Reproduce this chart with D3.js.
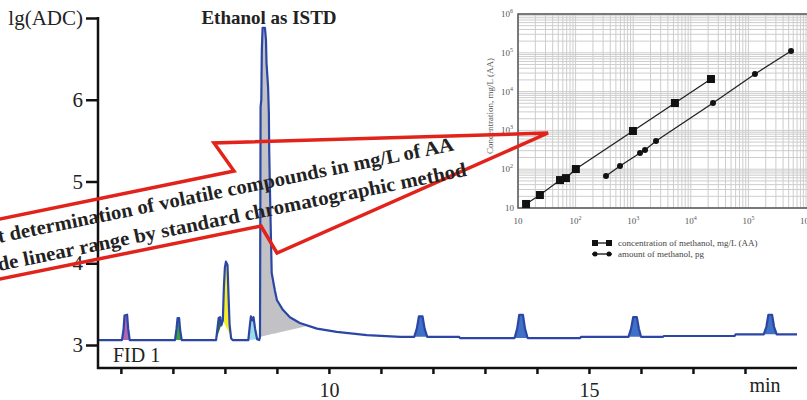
<!DOCTYPE html>
<html>
<head>
<meta charset="utf-8">
<script src="https://cdn.jsdelivr.net/npm/d3@7"></script>
<style>
  html, body { margin: 0; padding: 0; background: #fff; }
  svg { display: block; font-family: 'Liberation Serif', 'DejaVu Serif', serif; }
</style>
</head>
<body>
<svg id="chart" width="807" height="400"></svg>
<script>
// FID 1 chromatogram, [time (min), lg(ADC)]
const trace = [
  [5.56, 3.06],
  [6.02, 3.06], [6.05, 3.18], [6.07, 3.36], [6.12, 3.37], [6.14, 3.2], [6.17, 3.06],
  [7.04, 3.06], [7.07, 3.2], [7.09, 3.33], [7.12, 3.33], [7.14, 3.18], [7.17, 3.06],
  [7.83, 3.06], [7.86, 3.22], [7.88, 3.33], [7.91, 3.34], [7.93, 3.24], [7.96, 3.3],
  [7.98, 3.7], [8.0, 3.95], [8.02, 4.02], [8.05, 3.98], [8.07, 3.6], [8.09, 3.25], [8.12, 3.08], [8.15, 3.06],
  [8.45, 3.06], [8.48, 3.24], [8.5, 3.35], [8.53, 3.3], [8.55, 3.34], [8.58, 3.2], [8.62, 3.07], [8.66, 3.06],
  [8.675, 3.1], [8.686, 5.91], [8.70, 6.0], [8.71, 6.61], [8.725, 6.88], [8.77, 6.88], [8.79, 6.73],
  [8.80, 6.45], [8.83, 6.16], [8.845, 5.84], [8.853, 5.35], [8.865, 4.93], [8.885, 4.32], [8.90, 3.88],
  [8.96, 3.67], [9.0, 3.55], [9.115, 3.43], [9.25, 3.34], [9.44, 3.27], [9.77, 3.20], [10.15, 3.16],
  [10.73, 3.12], [11.37, 3.10],
  [11.64, 3.10], [11.69, 3.2], [11.73, 3.35], [11.80, 3.35], [11.84, 3.2], [11.89, 3.10],
  [12.5, 3.10], [12.52, 3.085],
  [13.57, 3.085], [13.62, 3.2], [13.66, 3.37], [13.73, 3.37], [13.77, 3.2], [13.82, 3.085],
  [14.83, 3.085], [14.85, 3.10],
  [15.76, 3.10], [15.81, 3.2], [15.85, 3.34], [15.92, 3.34], [15.96, 3.2], [16.0, 3.10],
  [16.42, 3.10], [16.44, 3.11],
  [17.8, 3.11], [17.82, 3.13],
  [18.36, 3.13], [18.41, 3.22], [18.45, 3.37], [18.52, 3.37], [18.56, 3.22], [18.61, 3.13],
  [19.0, 3.13]
]

// integrated peak windows (min)
const peakWindows = [
  [6.02, 6.17], [7.04, 7.17], [7.83, 7.96], [7.96, 8.15], [8.45, 8.62],
  [8.675, 9.6],
  [11.64, 11.89], [13.57, 13.82], [15.76, 16.0], [18.36, 18.61]
]
const peakColors = [
  '#b466b4', '#3aa040', '#1f7a30', '#f2ee2a', '#9adcea',
  '#c2c2c6',
  '#3f72c6', '#3f72c6', '#3f72c6', '#3f72c6'
]

const timeTicks = [6, 7, 8, 9, 10, 11, 12, 13, 14, 15, 16, 17, 18]
const timeTickLabels = { 10: '10', 15: '15' }
const lgTicks = [3, 4, 5, 6, 7]
const lgTickLabels = ['3', '4', '5', '6', 'lg(ADC)']

// inset: methanol calibration
const concX = [13.8, 24, 53.6, 68, 101, 990, 5300, 22400]
const concY = [12.7, 21.6, 52.5, 59, 101, 966, 5080, 21100]
const amountX = [337, 590, 1312, 1603, 2490, 24300, 130000, 550000]
const amountY = [66.8, 121, 262, 313, 533, 5080, 28400, 111000]
const insetTicks = [1e1, 1e2, 1e3, 1e4, 1e5, 1e6]
const insetLegend = ['concentration of methanol, mg/L (AA)', 'amount of methanol, pg']

const svg = d3.select('#chart')

const x = d3.scaleLinear().domain([5.56, 19.0]).range([98, 797])
const y = d3.scaleLinear().domain([3, 7]).range([345, 18])

const lgAt = d3.scaleLinear()
  .domain(trace.map(d => d[0]))
  .range(trace.map(d => d[1]))

// peak fills
const fills = svg.append('g').attr('class', 'peak-fills')
peakWindows.forEach((w, i) => {
  const inner = trace.filter(d => d[0] > w[0] && d[0] < w[1])
  const pts = [[w[0], lgAt(w[0])], ...inner, [w[1], lgAt(w[1])]]
  const base = d3.scaleLinear().domain(w).range([lgAt(w[0]), lgAt(w[1])])
  const area = d3.area()
    .x(d => x(d[0]))
    .y0(d => y(base(d[0])))
    .y1(d => y(d[1]))
  fills.append('path')
    .attr('d', area(pts))
    .attr('fill', peakColors[i])
})

svg.append('path')
  .attr('d', d3.line().x(d => x(d[0])).y(d => y(d[1]))(trace))
  .attr('fill', 'none')
  .attr('stroke', '#2b46a4')
  .attr('stroke-width', 2.2)
  .attr('stroke-linejoin', 'round')

// axes
const xAxis = svg.append('g')
  .attr('transform', 'translate(0,368)')
  .call(d3.axisBottom(x).tickValues(timeTicks).tickSize(6).tickFormat(d => timeTickLabels[d] || ''))
xAxis.select('.domain').remove()
xAxis.selectAll('line').attr('stroke', '#111').attr('stroke-width', 2.5)
xAxis.selectAll('text')
  .attr('y', 15)
  .attr('font-family', 'Liberation Serif')
  .attr('font-size', 20)
  .attr('fill', '#222')

const yAxis = svg.append('g')
  .attr('transform', 'translate(98,0)')
  .call(d3.axisLeft(y).tickValues(lgTicks).tickSize(12).tickPadding(3).tickFormat((d, i) => lgTickLabels[i]))
yAxis.select('.domain').remove()
yAxis.selectAll('line').attr('stroke', '#111').attr('stroke-width', 2.5)
yAxis.selectAll('text')
  .attr('font-family', 'Liberation Serif')
  .attr('font-size', 21)
  .attr('fill', '#222')

svg.append('line')
  .attr('x1', 98).attr('x2', 98).attr('y1', y(7) - 1).attr('y2', 369)
  .attr('stroke', '#111').attr('stroke-width', 2.5)
svg.append('line')
  .attr('x1', 97).attr('x2', 797).attr('y1', 368).attr('y2', 368)
  .attr('stroke', '#111').attr('stroke-width', 2.5)

svg.append('text')
  .attr('x', 765).attr('y', 392)
  .attr('text-anchor', 'middle')
  .attr('font-size', 20)
  .attr('fill', '#222')
  .text('min')

svg.append('text')
  .attr('x', 113).attr('y', 362)
  .attr('font-size', 20)
  .attr('fill', '#222')
  .text('FID 1')

svg.append('text')
  .attr('x', 269).attr('y', 24)
  .attr('text-anchor', 'middle')
  .attr('font-size', 19)
  .attr('font-weight', 'bold')
  .attr('fill', '#222')
  .text('Ethanol as ISTD')

// inset log-log plot
const inset = svg.append('g').attr('class', 'inset')
const ix = d3.scaleLog().domain([10, 1e6]).range([518, 806])
const iy = d3.scaleLog().domain([10, 1e6]).range([208, 14])

const gridValues = []
for (let p = 1; p < 6; p++) {
  for (let k = 1; k < 10; k++) gridValues.push(k * Math.pow(10, p))
}
gridValues.push(1e6)

inset.append('g').selectAll('line')
  .data(gridValues)
  .join('line')
  .attr('x1', d => ix(d)).attr('x2', d => ix(d))
  .attr('y1', 14).attr('y2', 208)
  .attr('stroke', '#cdcdcd').attr('stroke-width', 1)
inset.append('g').selectAll('line')
  .data(gridValues)
  .join('line')
  .attr('x1', 518).attr('x2', 807)
  .attr('y1', d => iy(d)).attr('y2', d => iy(d))
  .attr('stroke', '#cdcdcd').attr('stroke-width', 1)

inset.append('path')
  .attr('d', 'M807,14H518V208H807')
  .attr('fill', 'none')
  .attr('stroke', '#555')
  .attr('stroke-width', 1.5)

function powerLabel (sel, d) {
  const p = Math.round(Math.log10(d))
  sel.text('10')
  if (p > 1) {
    sel.append('tspan')
      .attr('dy', -4)
      .attr('font-size', 6)
      .text(p)
  }
}

inset.append('g').selectAll('text')
  .data(insetTicks)
  .join('text')
  .attr('x', d => ix(d))
  .attr('y', 224)
  .attr('text-anchor', 'middle')
  .attr('font-size', 9)
  .attr('fill', '#555')
  .each(function (d) { powerLabel(d3.select(this), d) })

inset.append('g').selectAll('text')
  .data(insetTicks)
  .join('text')
  .attr('x', d => d > 10 ? 507 : 514)
  .attr('y', d => iy(d) + 3)
  .attr('text-anchor', d => d > 10 ? 'middle' : 'end')
  .attr('font-size', 9)
  .attr('fill', '#555')
  .each(function (d) { powerLabel(d3.select(this), d) })

inset.append('text')
  .attr('transform', 'translate(493,106) rotate(-90)')
  .attr('text-anchor', 'middle')
  .attr('font-size', 9)
  .attr('fill', '#555')
  .text('Concentration, mg/L (AA)')

const insetLine = d3.line().x(d => ix(d[0])).y(d => iy(d[1]))
const concPts = concX.map((v, i) => [v, concY[i]])
const amountPts = amountX.map((v, i) => [v, amountY[i]])

inset.append('path')
  .attr('d', insetLine(concPts))
  .attr('fill', 'none').attr('stroke', '#222').attr('stroke-width', 1.3)
inset.append('path')
  .attr('d', insetLine(amountPts))
  .attr('fill', 'none').attr('stroke', '#222').attr('stroke-width', 1.3)

inset.append('g').selectAll('rect')
  .data(concPts)
  .join('rect')
  .attr('x', d => ix(d[0]) - 4)
  .attr('y', d => iy(d[1]) - 4)
  .attr('width', 8).attr('height', 8)
  .attr('fill', '#111')
inset.append('g').selectAll('circle')
  .data(amountPts)
  .join('circle')
  .attr('cx', d => ix(d[0]))
  .attr('cy', d => iy(d[1]))
  .attr('r', 3)
  .attr('fill', '#111')

// inset legend
const legend = inset.append('g').attr('transform', 'translate(592,243)')
legend.append('line').attr('x1', 0).attr('x2', 20).attr('y1', 0).attr('y2', 0)
  .attr('stroke', '#111').attr('stroke-width', 1.3)
legend.selectAll('rect').data([3, 17]).join('rect')
  .attr('x', d => d - 3).attr('y', -3).attr('width', 6).attr('height', 6).attr('fill', '#111')
legend.append('line').attr('x1', 0).attr('x2', 20).attr('y1', 11).attr('y2', 11)
  .attr('stroke', '#111').attr('stroke-width', 1.3)
legend.selectAll('circle').data([3, 17]).join('circle')
  .attr('cx', d => d).attr('cy', 11).attr('r', 2.5).attr('fill', '#111')
legend.selectAll('text').data(insetLegend).join('text')
  .attr('x', 26).attr('y', (d, i) => i * 11 + 3)
  .attr('font-size', 9)
  .attr('fill', '#444')
  .text(d => d)

// red callout
const callout = [[-10, 221], [234, 171], [214, 143], [548, 133], [277, 253], [261, 226], [-10, 281]]
svg.append('path')
  .attr('d', d3.line()(callout))
  .attr('fill', 'none')
  .attr('stroke', '#e2231b')
  .attr('stroke-width', 3.5)
  .attr('stroke-linejoin', 'miter')

const calloutText = [
  { text: 't determination of volatile compounds in mg/L of AA', x: -1, y: 243, len: 465 },
  { text: 'de linear range by standard chromatographic method', x: -1, y: 271, len: 478 }
]
svg.append('g').selectAll('text')
  .data(calloutText)
  .join('text')
  .attr('transform', d => `translate(${d.x},${d.y}) rotate(-11.5)`)
  .attr('font-size', 20)
  .attr('font-weight', 'bold')
  .attr('fill', '#222')
  .attr('textLength', d => d.len)
  .attr('lengthAdjust', 'spacingAndGlyphs')
  .text(d => d.text)
</script>
</body>
</html>
